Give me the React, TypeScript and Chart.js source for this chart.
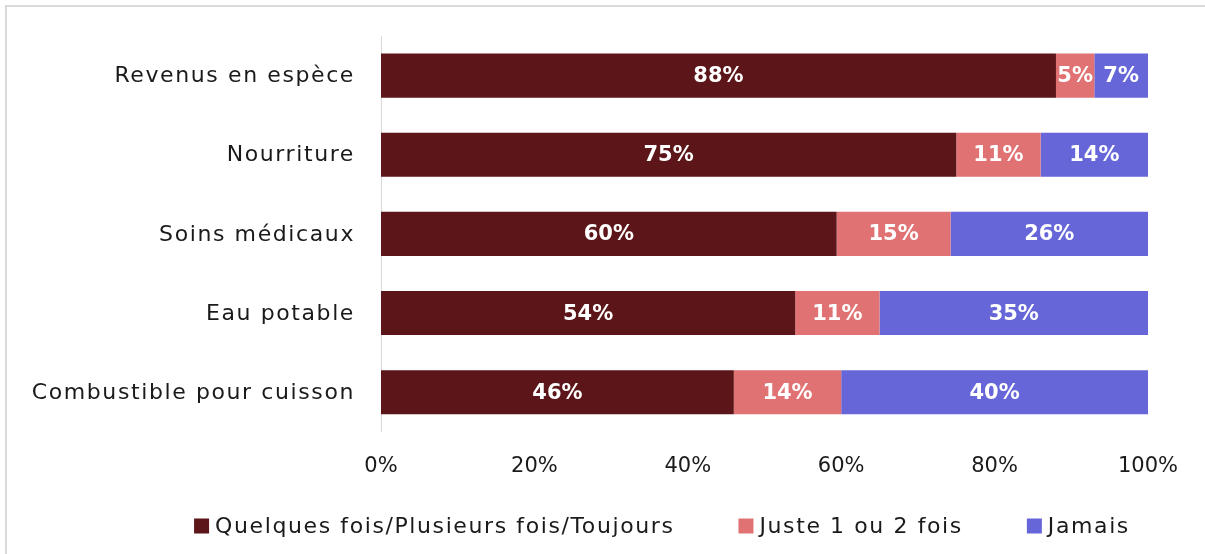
import React, { useEffect, useRef } from "react";
import { Chart, registerables } from "chart.js";

Chart.register(...registerables);

const categories = [
  "Revenus en espèce",
  "Nourriture",
  "Soins médicaux",
  "Eau potable",
  "Combustible pour cuisson",
];
const seriesNames = [
  "Quelques fois/Plusieurs fois/Toujours",
  "Juste 1 ou 2 fois",
  "Jamais",
];
const souvent = [88, 75, 60, 54, 46];
const justeUneDeux = [5, 11, 15, 11, 14];
const jamais = [7, 14, 26, 35, 40];
const xTicks = [0, 20, 40, 60, 80, 100];
const colors = ["#5C1518", "#E07274", "#6666D9"];

const FONT = "'DejaVu Sans', sans-serif";
const TEXT = "#1a1a1a";
const FRAME = "#d9d9d9";

export default function App() {
  const ref = useRef<HTMLCanvasElement | null>(null);

  useEffect(() => {
    if (!ref.current) return;
    const raw = [souvent, justeUneDeux, jamais];
    const sums = categories.map((_, i) => raw.reduce((s, a) => s + a[i], 0));

    const textPlugin = {
      id: "customText",
      beforeDraw(chart: any) {
        const ctx = chart.ctx;
        ctx.save();
        ctx.fillStyle = FRAME;
        ctx.fillRect(0, 0, 2, chart.height);
        ctx.fillRect(0, 0, chart.width, 2);
        ctx.restore();
      },
      afterDraw(chart: any) {
        const ctx = chart.ctx;
        const area = chart.chartArea;
        const yScale = chart.scales.y;
        ctx.save();
        // category labels
        ctx.font = `22px ${FONT}`;
        ctx.fillStyle = TEXT;
        (ctx as any).letterSpacing = "1.6px";
        ctx.textAlign = "right";
        ctx.textBaseline = "middle";
        categories.forEach((c, i) => {
          ctx.fillText(c, area.left - 26, yScale.getPixelForValue(i) + 1);
        });
        // legend
        ctx.textAlign = "left";
        const box = 15;
        const gap = 6;
        const between = 64;
        const widths = seriesNames.map((n) => ctx.measureText(n).width);
        const total =
          widths.reduce((s, w) => s + w + box + gap, 0) + between * (seriesNames.length - 1);
        let x = 657 - total / 2;
        const ly = 521;
        seriesNames.forEach((n, i) => {
          ctx.fillStyle = colors[i];
          ctx.fillRect(x, ly - box / 2, box, box);
          ctx.fillStyle = TEXT;
          ctx.fillText(n, x + box + gap, ly + 1);
          x += box + gap + widths[i] + between;
        });
        ctx.restore();
      },
      afterDatasetsDraw(chart: any) {
        const ctx = chart.ctx;
        ctx.save();
        ctx.font = `bold 21px ${FONT}`;
        ctx.fillStyle = "#ffffff";
        ctx.textAlign = "center";
        ctx.textBaseline = "middle";
        chart.data.datasets.forEach((ds: any, di: number) => {
          const meta = chart.getDatasetMeta(di);
          meta.data.forEach((el: any, i: number) => {
            const x = (el.x + el.base) / 2;
            ctx.fillText(raw[di][i] + "%", x, el.y + 1);
          });
        });
        ctx.restore();
      },
    };

    const chart = new Chart(ref.current, {
      type: "bar",
      data: {
        labels: categories,
        datasets: raw.map((arr, di) => ({
          label: seriesNames[di],
          data: arr.map((v, i) => (v / sums[i]) * 100),
          backgroundColor: colors[di],
          borderWidth: 0,
          categoryPercentage: 1,
          barPercentage: 0.557,
        })),
      },
      options: {
        indexAxis: "y",
        responsive: false,
        animation: false,
        layout: { padding: { top: 31, right: 57, bottom: 53, left: 0 } },
        plugins: {
          tooltip: { enabled: false },
          legend: { display: false },
        },
        scales: {
          x: {
            stacked: true,
            min: 0,
            max: 100,
            afterBuildTicks(scale: any) {
              scale.ticks = xTicks.map((v) => ({ value: v }));
            },
            ticks: {
              callback: (v: any) => v + "%",
              color: TEXT,
              font: { family: FONT, size: 21 },
              padding: 22,
              maxRotation: 0,
            },
            grid: { display: false, drawTicks: false },
            border: { display: false },
          },
          y: {
            stacked: true,
            afterFit(scale: any) {
              scale.width = 376;
            },
            ticks: { display: false },
            grid: { display: false, drawTicks: false },
            border: { display: true, color: FRAME, width: 1 },
          },
        },
      },
      plugins: [textPlugin],
    });
    return () => chart.destroy();
  }, []);

  return (
    <canvas
      ref={ref}
      width={1200}
      height={549}
      style={{ display: "block", position: "absolute", left: 5, top: 5 }}
    />
  );
}
